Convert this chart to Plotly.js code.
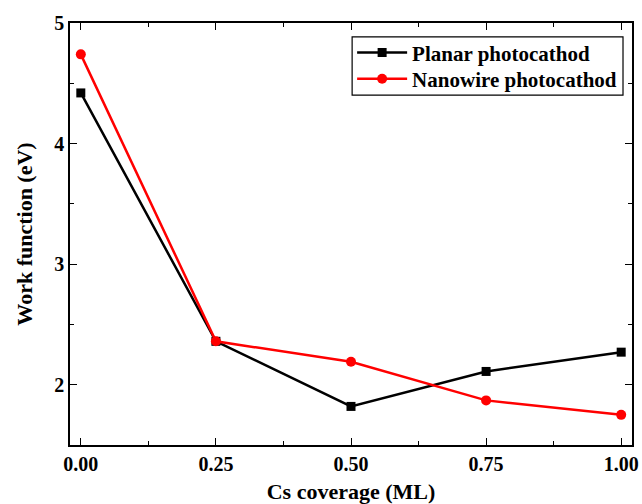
<!DOCTYPE html>
<html><head><meta charset="utf-8">
<script src="https://cdn.plot.ly/plotly-3.0.1.min.js"></script>
<style>body{margin:0;padding:0;background:#fff}#chart{width:642px;height:504px}</style>
</head><body><div id="chart"></div>
<script>
const coverage = [0.00, 0.25, 0.50, 0.75, 1.00];
const planar = [4.42, 2.36, 1.82, 2.11, 2.27];
const nanowire = [4.74, 2.36, 2.19, 1.87, 1.75];
const seriesNames = ["Planar photocathod", "Nanowire photocathod"];
const xTicks = [0, 0.25, 0.5, 0.75, 1.0];
const xTickText = ["0.00", "0.25", "0.50", "0.75", "1.00"];
const yTicks = [2, 3, 4, 5];

const font = "'Liberation Serif', 'Times New Roman', serif";
const traces = [
  {x: coverage, y: planar, name: seriesNames[0], mode: "lines+markers", legend: "legend",
   line: {color: "#000000", width: 2.5}, marker: {symbol: "square", size: 9, color: "#000000"}},
  {x: coverage, y: nanowire, name: seriesNames[1], mode: "lines+markers", legend: "legend2",
   line: {color: "#ff0000", width: 2.5}, marker: {symbol: "circle", size: 10, color: "#ff0000"}}
];
const axisCommon = {
  showgrid: false, zeroline: false, showline: true, linecolor: "#000", linewidth: 1.5,
  mirror: "ticks", ticks: "inside", ticklen: 7, tickwidth: 1.3, tickcolor: "#000",
  tickfont: {family: font, size: 20, color: "#000", weight: "bold"}
};
const legendCommon = {
  xanchor: "left", yanchor: "middle", borderwidth: 0, bgcolor: "rgba(0,0,0,0)",
  itemwidth: 50, font: {family: font, size: 21, color: "#000", weight: "bold"}
};
const layout = {
  width: 642, height: 504,
  margin: {l: 70, r: 10, t: 23, b: 59},
  paper_bgcolor: "#fff", plot_bgcolor: "#fff",
  showlegend: true,
  legend: Object.assign({}, legendCommon, {x: 0.502, y: 0.929}),
  legend2: Object.assign({}, legendCommon, {x: 0.502, y: 0.867}),
  shapes: [{type: "rect", xref: "paper", yref: "paper", x0: 0.502, x1: 0.984, y0: 0.829, y1: 0.967,
    line: {color: "#000", width: 1.2}, fillcolor: "rgba(0,0,0,0)", layer: "above"}],
  xaxis: Object.assign({}, axisCommon, {
    range: [-0.02, 1.02], tickvals: xTicks, ticktext: xTickText,
    minor: {tickvals: [0.125, 0.375, 0.625, 0.875], ticks: "inside", ticklen: 4, tickwidth: 1.2, tickcolor: "#000"},
    title: {text: "Cs coverage (ML)", standoff: 12, font: {family: font, size: 22, color: "#000", weight: "bold"}}
  }),
  yaxis: Object.assign({}, axisCommon, {
    range: [1.5, 5.0], tickvals: yTicks,
    minor: {tickvals: [2.5, 3.5, 4.5], ticks: "inside", ticklen: 4, tickwidth: 1.2, tickcolor: "#000"},
    title: {text: "Work function (eV)", standoff: 16, font: {family: font, size: 22, color: "#000", weight: "bold"}}
  })
};
Plotly.newPlot("chart", traces, layout, {displayModeBar: false, responsive: false});
</script>
</body></html>
